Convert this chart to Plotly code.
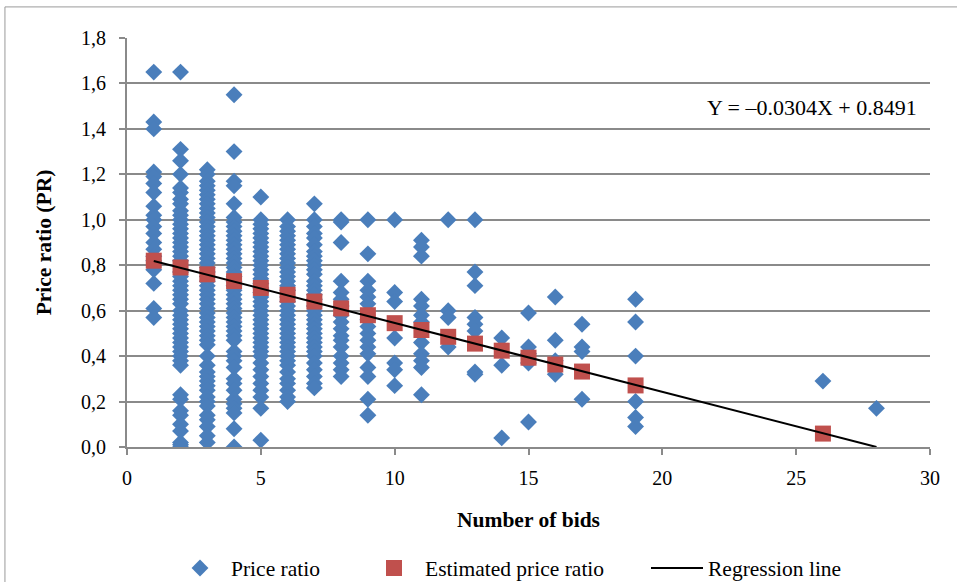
import plotly.graph_objects as go

# Observed price ratios, grouped by number of bids
pr_1 = [1.65, 1.43, 1.40, 1.21, 1.19, 1.16, 1.12, 1.06, 1.02, 1.00, 0.97, 0.94, 0.90, 0.87, 0.84, 0.82, 0.80, 0.78, 0.72, 0.61, 0.57]
pr_2 = [1.65, 1.31, 1.26, 1.20, 1.14, 1.12, 1.09, 1.07, 1.04, 1.02, 1.00, 0.98, 0.96, 0.94, 0.92, 0.90, 0.88, 0.86, 0.84, 0.82,
        0.80, 0.77, 0.75, 0.73, 0.71, 0.69, 0.67, 0.65, 0.63, 0.60, 0.58, 0.56, 0.54, 0.52, 0.50, 0.48, 0.46, 0.44, 0.42, 0.40,
        0.38, 0.36, 0.23, 0.21, 0.16, 0.14, 0.10, 0.07, 0.02, 0.01, 0.00]
pr_3 = [1.22, 1.20, 1.17, 1.15, 1.13, 1.11, 1.09, 1.07, 1.05, 1.03, 1.01, 0.99, 0.97, 0.95, 0.93, 0.91, 0.89, 0.87, 0.85, 0.83,
        0.81, 0.79, 0.77, 0.75, 0.73, 0.71, 0.69, 0.67, 0.65, 0.63, 0.61, 0.59, 0.57, 0.55, 0.53, 0.51, 0.49, 0.47, 0.45, 0.40,
        0.36, 0.33, 0.31, 0.29, 0.27, 0.25, 0.22, 0.20, 0.18, 0.14, 0.12, 0.09, 0.05, 0.02]
pr_4 = [1.55, 1.30, 1.17, 1.15, 1.07, 1.01, 0.99, 0.97, 0.95, 0.93, 0.91, 0.89, 0.87, 0.85, 0.83, 0.81, 0.79, 0.77, 0.75, 0.73,
        0.71, 0.69, 0.67, 0.65, 0.63, 0.61, 0.59, 0.57, 0.55, 0.53, 0.51, 0.49, 0.47, 0.42, 0.40, 0.38, 0.35, 0.30, 0.28, 0.25,
        0.21, 0.19, 0.17, 0.15, 0.08, 0.00]
pr_5 = [1.10, 1.00, 0.98, 0.96, 0.94, 0.92, 0.90, 0.88, 0.86, 0.84, 0.82, 0.80, 0.78, 0.76, 0.74, 0.72, 0.70, 0.68, 0.66, 0.64,
        0.62, 0.60, 0.58, 0.56, 0.54, 0.52, 0.50, 0.48, 0.46, 0.44, 0.42, 0.40, 0.37, 0.34, 0.31, 0.28, 0.25, 0.22, 0.17, 0.03]
pr_6 = [1.00, 0.97, 0.95, 0.93, 0.91, 0.89, 0.87, 0.85, 0.83, 0.81, 0.79, 0.77, 0.75, 0.73, 0.71, 0.69, 0.66, 0.64, 0.62, 0.60,
        0.58, 0.56, 0.54, 0.52, 0.50, 0.48, 0.46, 0.44, 0.42, 0.40, 0.38, 0.36, 0.33, 0.30, 0.28, 0.25, 0.22, 0.20]
pr_7 = [1.07, 1.00, 0.97, 0.94, 0.92, 0.89, 0.86, 0.84, 0.82, 0.80, 0.78, 0.76, 0.73, 0.71, 0.69, 0.67, 0.65, 0.62, 0.60, 0.58,
        0.56, 0.54, 0.52, 0.50, 0.48, 0.46, 0.44, 0.42, 0.40, 0.37, 0.34, 0.31, 0.28, 0.26]
pr_8 = [1.00, 0.99, 0.90, 0.73, 0.68, 0.65, 0.62, 0.58, 0.55, 0.52, 0.49, 0.47, 0.44, 0.40, 0.37, 0.34, 0.31]
pr_9 = [1.00, 0.85, 0.73, 0.69, 0.66, 0.63, 0.56, 0.53, 0.50, 0.47, 0.44, 0.41, 0.35, 0.31, 0.21, 0.14]
pr_10 = [1.00, 0.68, 0.64, 0.48, 0.37, 0.34, 0.27]
pr_11 = [0.91, 0.88, 0.84, 0.65, 0.62, 0.58, 0.55, 0.46, 0.41, 0.38, 0.35, 0.23]
pr_12 = [1.00, 0.60, 0.57, 0.44]
pr_13 = [1.00, 0.77, 0.71, 0.57, 0.54, 0.51, 0.33, 0.32]
pr_14 = [0.48, 0.36, 0.04]
pr_15 = [0.59, 0.44, 0.41, 0.37, 0.11]
pr_16 = [0.66, 0.47, 0.38, 0.32]
pr_17 = [0.54, 0.44, 0.42, 0.21]
pr_19 = [0.65, 0.55, 0.40, 0.20, 0.13, 0.09]
pr_26 = [0.29]
pr_28 = [0.17]

# Estimated price ratios
est_bids = [1, 2, 3, 4, 5, 6, 7, 8, 9, 10, 11, 12, 13, 14, 15, 16, 17, 19, 26]
est_pr = [0.82, 0.79, 0.76, 0.73, 0.70, 0.67, 0.64, 0.61, 0.58, 0.545, 0.515, 0.485, 0.455, 0.424, 0.393, 0.363, 0.332, 0.271, 0.059]

# Regression line end points
reg_bids = [1, 28]
reg_pr = [0.819, 0.0]

y_ticks = [0, 0.2, 0.4, 0.6, 0.8, 1.0, 1.2, 1.4, 1.6, 1.8]
y_ticktext = ["0,0", "0,2", "0,4", "0,6", "0,8", "1,0", "1,2", "1,4", "1,6", "1,8"]
x_ticks = [0, 5, 10, 15, 20, 25, 30]

groups = [(1, pr_1), (2, pr_2), (3, pr_3), (4, pr_4), (5, pr_5), (6, pr_6), (7, pr_7), (8, pr_8), (9, pr_9),
          (10, pr_10), (11, pr_11), (12, pr_12), (13, pr_13), (14, pr_14), (15, pr_15), (16, pr_16), (17, pr_17),
          (19, pr_19), (26, pr_26), (28, pr_28)]
obs_x, obs_y = [], []
for b, vals in groups:
    obs_x += [b] * len(vals)
    obs_y += vals

FONT = "Liberation Serif, Times New Roman, serif"
GRID = "#8A8A8A"

fig = go.Figure()
fig.add_trace(go.Scatter(x=obs_x, y=obs_y, mode="markers", name="Price ratio", legend="legend",
                         marker=dict(symbol="diamond", size=13, color="#4A7EBB")))
fig.add_trace(go.Scatter(x=est_bids, y=est_pr, mode="markers", name="Estimated price ratio", legend="legend2",
                         marker=dict(symbol="square", size=16, color="#C0504D")))
fig.add_trace(go.Scatter(x=reg_bids, y=reg_pr, mode="lines", name="Regression line", legend="legend3",
                         line=dict(color="black", width=2)))

fig.add_annotation(x=25.59, y=1.496, xref="x", yref="y", text="Y = –0.0304X + 0.8491",
                   showarrow=False, font=dict(family=FONT, size=22, color="black"))

# outer chart border
fig.add_shape(type="rect", xref="paper", yref="paper", x0=-0.152, y0=-0.40, x1=1.10, y1=1.076,
              line=dict(color="#9A9A9A", width=1), layer="below")

leg_common = dict(orientation="h", xref="container", yref="container", xanchor="left", yanchor="middle",
                  y=0.024, font=dict(family=FONT, size=21.5, color="black"), itemwidth=52,
                  bgcolor="rgba(0,0,0,0)", borderwidth=0)

fig.update_layout(
    width=957, height=582,
    margin=dict(l=127, r=27, t=38, b=135),
    paper_bgcolor="white", plot_bgcolor="white",
    font=dict(family=FONT, size=20, color="black"),
    showlegend=True,
    legend=dict(x=169 / 957, **leg_common),
    legend2=dict(x=363 / 957, **leg_common),
    legend3=dict(x=646 / 957, **leg_common),
    xaxis=dict(range=[0, 30], tickvals=x_ticks, showgrid=False, zeroline=False,
               showline=True, linecolor=GRID, linewidth=2,
               ticks="outside", ticklen=6, tickwidth=1.5, tickcolor=GRID, ticklabelstandoff=6,
               title=dict(text="<b>Number of bids</b>", font=dict(family=FONT, size=21.5), standoff=24),
               tickfont=dict(family=FONT, size=20)),
    yaxis=dict(range=[0, 1.8], tickvals=y_ticks, ticktext=y_ticktext, showgrid=True,
               gridcolor=GRID, gridwidth=2, zeroline=False,
               showline=True, linecolor=GRID, linewidth=2,
               ticks="outside", ticklen=6, tickwidth=1.5, tickcolor=GRID, ticklabelstandoff=9,
               title=dict(text="<b>Price ratio (PR)</b>", font=dict(family=FONT, size=21.5), standoff=23),
               tickfont=dict(family=FONT, size=20)),
)

fig.write_html("out.html", config={"displayModeBar": False},
               post_script="document.body.style.margin='0px';")
